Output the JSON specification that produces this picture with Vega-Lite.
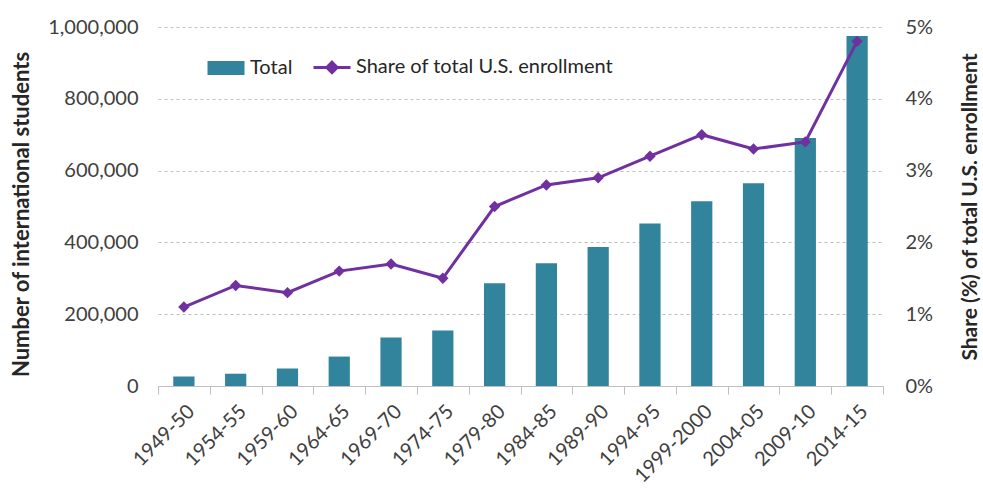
{
  "$schema": "https://vega.github.io/schema/vega-lite/v6.json",
  "width": 725,
  "height": 359,
  "autosize": "none",
  "padding": {"left": 158, "top": 27, "right": 100, "bottom": 106},
  "background": "white",
  "config": {
    "font": "Lato",
    "view": {"stroke": null},
    "axis": {"labelColor": "#404040", "titleColor": "#262626", "labelFont": "Lato", "titleFont": "Lato"}
  },
  "data": {
    "values": [
      {"year": "1949-50", "total": 26400, "share": 1.1},
      {"year": "1954-55", "total": 34200, "share": 1.4},
      {"year": "1959-60", "total": 48500, "share": 1.3},
      {"year": "1964-65", "total": 82000, "share": 1.6},
      {"year": "1969-70", "total": 135000, "share": 1.7},
      {"year": "1974-75", "total": 154600, "share": 1.5},
      {"year": "1979-80", "total": 286300, "share": 2.5},
      {"year": "1984-85", "total": 342100, "share": 2.8},
      {"year": "1989-90", "total": 386900, "share": 2.9},
      {"year": "1994-95", "total": 452600, "share": 3.2},
      {"year": "1999-2000", "total": 514700, "share": 3.5},
      {"year": "2004-05", "total": 565000, "share": 3.3},
      {"year": "2009-10", "total": 690900, "share": 3.4},
      {"year": "2014-15", "total": 974900, "share": 4.8}
    ]
  },
  "encoding": {
    "x": {
      "field": "year",
      "type": "nominal",
      "sort": null,
      "scale": {"paddingInner": 0, "paddingOuter": 0},
      "axis": {
        "title": null,
        "labelAngle": -45,
        "labelFontSize": 20,
        "domainColor": "#bfbfbf",
        "tickColor": "#bfbfbf",
        "tickBand": "extent",
        "tickSize": 8,
        "labelPadding": 7
      }
    }
  },
  "layer": [
    {
      "mark": {"type": "bar", "width": {"band": 0.41}},
      "encoding": {
        "y": {
          "field": "total",
          "type": "quantitative",
          "scale": {"domain": [0, 1000000]},
          "axis": {
            "title": "Number of international students",
            "titleFontSize": 22,
            "titleFontWeight": "bold",
            "titlePadding": 14,
            "titleY": 187,
            "values": [0, 200000, 400000, 600000, 800000, 1000000],
            "format": ",d",
            "labelFontSize": 20,
            "labelPadding": 20,
            "domain": false,
            "ticks": false,
            "grid": true,
            "gridDash": [3, 3],
            "gridColor": "#bfbfbf"
          }
        },
        "color": {
          "datum": "Total",
          "type": "nominal",
          "scale": {"domain": ["Total", "Share of total U.S. enrollment"], "range": ["#31849B", "#7030A0"]},
          "legend": {
            "orient": "none",
            "legendX": 58,
            "legendY": 30,
            "direction": "horizontal",
            "title": null,
            "labelFontSize": 20,
            "labelColor": "#262626",
            "labelLimit": 400,
            "symbolSize": 1369,
            "columnPadding": 14,
            "labelOffset": 14,
            "padding": 0,
            "encode": {
              "symbols": {
                "update": {
                  "shape": {"signal": "datum.value === 'Total' ? 'M-1,-0.38H1V0.38H-1Z' : 'M-1,0H1M0,-0.28L0.28,0L0,0.28L-0.28,0Z'"},
                  "fill": {"scale": "color", "field": "value"},
                  "stroke": {"scale": "color", "field": "value"},
                  "strokeWidth": {"signal": "datum.value === 'Total' ? 0 : 3"}
                }
              }
            }
          }
        }
      }
    },
    {
      "mark": {"type": "line", "strokeWidth": 3, "point": {"shape": "diamond", "size": 130, "filled": true}},
      "encoding": {
        "y": {
          "field": "share",
          "type": "quantitative",
          "scale": {"domain": [0, 5]},
          "axis": {
            "orient": "right",
            "title": "Share (%) of total U.S. enrollment",
            "titleFontSize": 21,
            "titleFontWeight": "bold",
            "titleAngle": 270,
            "titlePadding": 48,
            "values": [0, 1, 2, 3, 4, 5],
            "labelExpr": "datum.value + '%'",
            "labelFontSize": 20,
            "labelPadding": 22,
            "domain": false,
            "ticks": false,
            "grid": false
          }
        },
        "color": {"datum": "Share of total U.S. enrollment", "type": "nominal"}
      }
    }
  ],
  "resolve": {"scale": {"y": "independent"}}
}
